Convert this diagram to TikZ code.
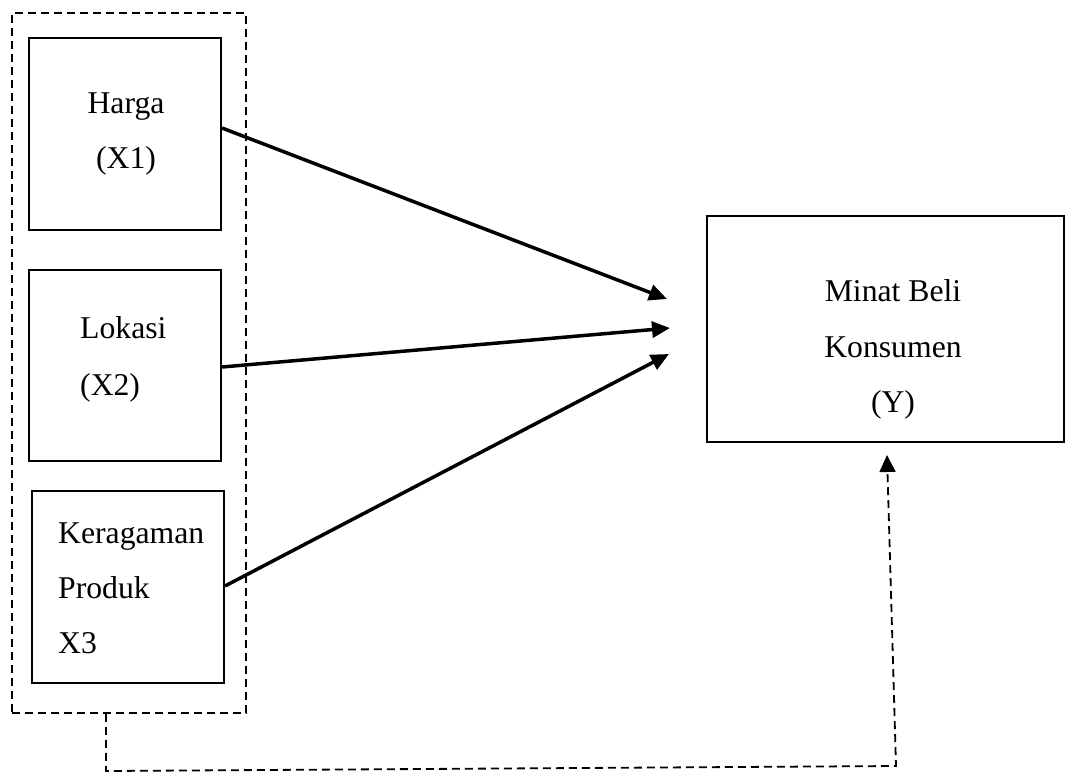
\documentclass[tikz,border=0pt]{standalone}
\usepackage{fontspec}
\setmainfont{Liberation Serif}
\usetikzlibrary{arrows.meta,calc}
\begin{document}
\begin{tikzpicture}[x=1pt,y=-1pt,
  box/.style={draw,line width=2pt,inner sep=0pt,rectangle},
  grp/.style={draw,line width=1.8pt,dash pattern=on 8pt off 5pt,inner sep=0pt,rectangle},
  lbl/.style={inner sep=0pt,font=\fontsize{31.7}{38}\selectfont},
  arr/.style={line width=3.5pt,-{Triangle[length=18pt,width=16pt]}},
  dsh/.style={line width=1.8pt,dash pattern=on 8pt off 5pt,-{Triangle[length=17pt,width=16pt]}}]
\useasboundingbox (0,0) rectangle (1066,774);
% group
\node[grp,minimum width=234pt,minimum height=700pt] (group) at (129,363) {};
% boxes
\node[box,minimum width=192pt,minimum height=192pt] (harga) at (125,134) {};
\node[box,minimum width=192pt,minimum height=191pt] (lokasi) at (125,365.5) {};
\node[box,minimum width=192pt,minimum height=192pt] (ragam) at (128,587) {};
\node[box,minimum width=357pt,minimum height=226pt] (minat) at (885.5,329) {};
% labels
\node[lbl,anchor=base] (h1) at (126,113) {Harga};
\node[lbl,anchor=base] (h2) at (126,168) {(X1)};
\node[lbl,anchor=base west] (l1) at (80,338) {Lokasi};
\node[lbl,anchor=base west] (l2) at (80,395) {(X2)};
\node[lbl,anchor=base west] (k1) at (58,543) {Keragaman};
\node[lbl,anchor=base west] (k2) at (58,598) {Produk};
\node[lbl,anchor=base west] (k3) at (58,653) {X3};
\node[lbl,anchor=base] (m1) at (893,301) {Minat Beli};
\node[lbl,anchor=base] (m2) at (893,357) {Konsumen};
\node[lbl,anchor=base] (m3) at (893,412) {(Y)};
% arrow tips
\coordinate (t1) at (667,299);
\coordinate (t2) at (670,328);
\coordinate (t3) at (669,354);
\coordinate (t4) at (887,455);
\coordinate (c1) at (106,771);
\coordinate (c2) at (896,766);
\draw[arr] ($(harga.east)+(0,-6)$) -- (t1);
\draw[arr] ($(lokasi.east)+(0,1.5)$) -- (t2);
\draw[arr] ($(ragam.east)+(0,-1)$) -- (t3);
\draw[dsh] (group.south -| c1) -- (c1) -- (c2) -- (t4);
\end{tikzpicture}
\end{document}
